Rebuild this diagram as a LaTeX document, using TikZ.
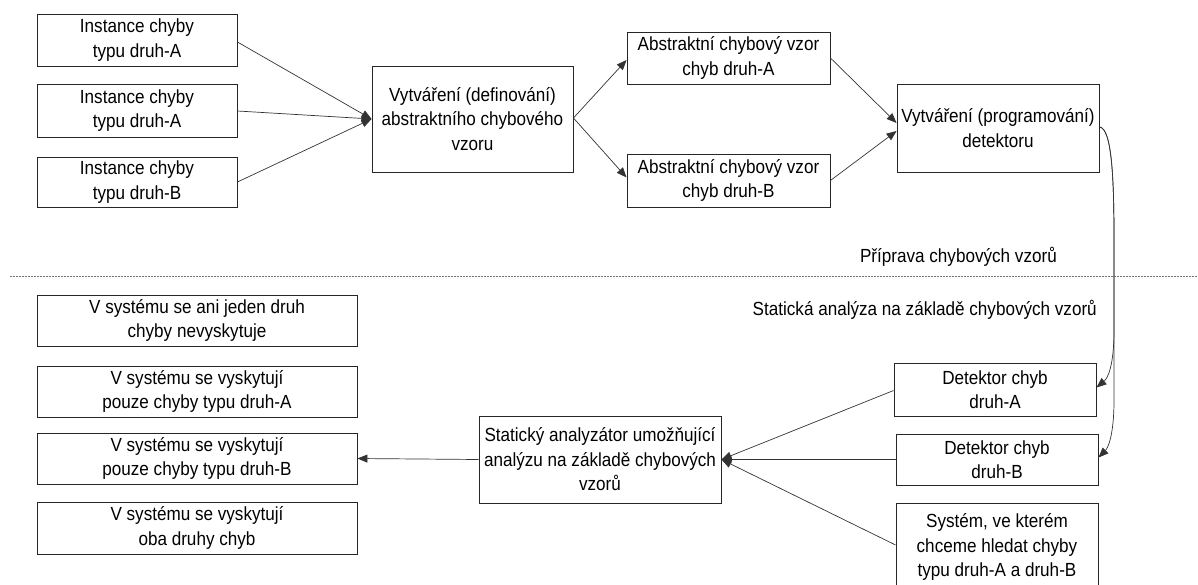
\documentclass[tikz,border=0pt]{standalone}
\usepackage{fontspec}
\setmainfont{Liberation Sans}[FakeStretch=0.9]
\usetikzlibrary{arrows.meta,calc}
\begin{document}
\begin{tikzpicture}[x=1pt,y=-1pt,
  box/.style={draw=black!85,line width=0.9pt,rectangle,inner sep=0pt,align=center,
    font=\fontsize{19}{24.5}\selectfont},
  conn/.style={draw=black!80,line width=0.7pt,-{Triangle[length=10pt,width=8pt]}},
  lbl/.style={font=\fontsize{19}{24.5}\selectfont,inner sep=0pt}]
\useasboundingbox (0,0) rectangle (1198,585);
% upper part
\node[box,minimum width=200pt,minimum height=52pt] (I1) at (137,40) {Instance chyby\\typu druh-A};
\node[box,minimum width=200pt,minimum height=53pt] (I2) at (137,110.5) {Instance chyby\\typu druh-A};
\node[box,minimum width=200pt,minimum height=50pt] (I3) at (137,182) {Instance chyby\\typu druh-B};
\node[box,minimum width=201pt,minimum height=106pt] (V) at (472.5,119) {Vytváření (definování)\\abstraktního chybového\\vzoru};
\node[box,minimum width=203pt,minimum height=52pt] (AA) at (728.5,58) {Abstraktní chybový vzor\\chyb druh-A};
\node[box,minimum width=203pt,minimum height=53pt] (AB) at (728.5,180.5) {Abstraktní chybový vzor\\chyb druh-B};
\node[box,minimum width=202pt,minimum height=88pt] (P) at (998,128) {Vytváření (programování)\\detektoru};
% lower part
\node[box,minimum width=320pt,minimum height=51pt] (L1) at (197,320.5) {V systému se ani jeden druh\\chyby nevyskytuje};
\node[box,minimum width=320pt,minimum height=51pt] (L2) at (197,391.5) {V systému se vyskytují\\pouze chyby typu druh-A};
\node[box,minimum width=320pt,minimum height=51pt] (L3) at (197,458.5) {V systému se vyskytují\\pouze chyby typu druh-B};
\node[box,minimum width=320pt,minimum height=52pt] (L4) at (197,528) {V systému se vyskytují\\oba druhy chyb};
\node[box,minimum width=242pt,minimum height=87pt] (An) at (600,459.5) {Statický analyzátor umožňující\\analýzu na základě chybových\\vzorů};
\node[box,minimum width=202pt,minimum height=53pt] (DA) at (995,389.5) {Detektor chyb\\druh-A};
\node[box,minimum width=202pt,minimum height=51pt] (DB) at (997,459.5) {Detektor chyb\\druh-B};
\node[box,minimum width=202pt,minimum height=88pt] (S) at (997,547) {Systém, ve kterém\\chceme hledat chyby\\typu druh-A a druh-B};
% labels and separator
\node[lbl,anchor=east] (lp) at (1057,257) {Příprava chybových vzorů};
\node[lbl,anchor=east] (ls) at (1097,310) {Statická analýza na základě chybových vzorů};
\coordinate (d1) at (10,276);
\coordinate (d2) at (1198,276);
\draw[black!55,line width=0.6pt,dash pattern=on 2pt off 1pt] (d1) -- (d2);
% connectors
\draw[conn] ($(I1.east)+(0,2)$) -- (V.west);
\draw[conn] ($(I2.east)+(0,0.5)$) -- (V.west);
\draw[conn] (I3.east) -- (V.west);
\draw[conn] ($(V.east)+(0,-1)$) -- ($(AA.west)+(0,2)$);
\draw[conn] ($(V.east)+(0,-1)$) -- ($(AB.west)+(0,-3)$);
\draw[conn] (AA.east) -- ($(P.west)+(0,-5)$);
\draw[conn] (AB.east) -- ($(P.west)+(0,3)$);
\draw[conn] ($(P.east)+(0,-1)$) .. controls (1112,128) and (1114,180) .. (1114,240) -- (1114,330) .. controls (1114,365) and (1108,378) .. ($(DA.east)+(0,-2)$);
\draw[conn] ($(P.east)+(0,-1)$) .. controls (1112,128) and (1114,180) .. (1114,240) -- (1114,400) .. controls (1114,435) and (1108,448) .. ($(DB.east)+(0,-2)$);
\draw[conn] ($(DA.west)+(0,1)$) -- (An.east);
\draw[conn] (DB.west) -- (An.east);
\draw[conn] ($(S.west)+(0,-2)$) -- (An.east);
\draw[conn] (An.west) -- (L3.east);
\end{tikzpicture}
\end{document}
